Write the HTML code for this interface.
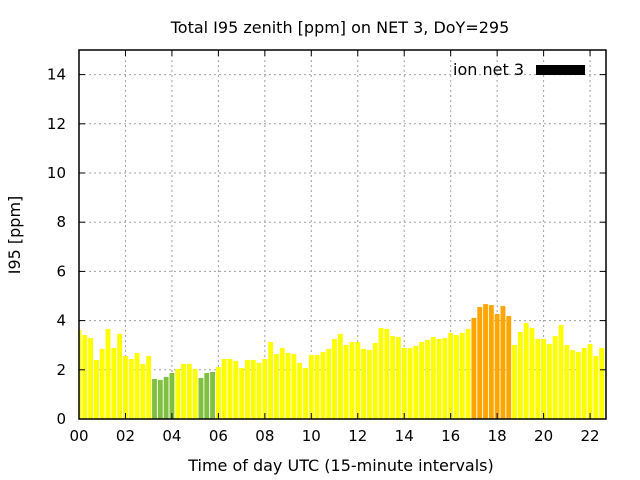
<!DOCTYPE html>
<html><head><meta charset="utf-8"><style>
html,body{margin:0;padding:0;background:#fff;}
svg{display:block;font-family:"DejaVu Sans","Liberation Sans",sans-serif;}
</style></head><body>
<svg id="chart" width="640" height="480" viewBox="0 0 640 480" xmlns="http://www.w3.org/2000/svg">
<defs><clipPath id="pc"><rect x="79" y="50" width="527" height="369"/></clipPath></defs>
<text x="340" y="33" text-anchor="middle" font-size="16" fill="#000">Total I95 zenith [ppm] on NET 3, DoY=295</text>
<text transform="translate(20,235) rotate(-90)" text-anchor="middle" font-size="16">I95 [ppm]</text>
<text x="341" y="471" text-anchor="middle" font-size="16">Time of day UTC (15-minute intervals)</text>
<g id="grid"></g>
<g id="bars" clip-path="url(#pc)"></g>
<g id="axes"></g>
<text x="524" y="75" text-anchor="end" font-size="16">ion net 3</text>
<rect x="536" y="65" width="49" height="10" fill="#000"/>
</svg>
<script>
const values = [3.62,3.41,3.29,2.40,2.85,3.66,2.89,3.46,2.56,2.44,2.68,2.24,2.56,1.63,1.59,1.71,1.87,2.03,2.24,2.24,2.03,1.67,1.87,1.91,2.11,2.44,2.44,2.36,2.07,2.40,2.40,
2.28,2.44,3.13,2.64,2.89,2.68,2.64,2.28,2.07,2.60,2.60,2.72,2.85,3.25,3.46,3.01,3.13,3.13,2.85,2.80,3.09,3.70,3.66,3.37,3.33,2.89,2.89,2.97,3.13,3.21,
3.33,3.25,3.29,3.50,3.41,3.50,3.66,4.11,4.55,4.67,4.63,4.27,4.59,4.19,3.01,3.54,3.90,3.70,3.25,3.25,3.05,3.37,3.82,3.01,2.80,2.72,2.89,3.05,2.56,2.89,2.72];
const xTicks = [0,2,4,6,8,10,12,14,16,18,20,22];
const xTickLabels = ["00","02","04","06","08","10","12","14","16","18","20","22"];
const yTicks = [0,2,4,6,8,10,12,14];
const NS="http://www.w3.org/2000/svg";
const X0=79,X1=606,Y0=419,Y1=50,XMAX=(606-79)/23.23,YMAX=15;
const xs=h=>X0+h/XMAX*(X1-X0);
const ys=v=>Y0-v/YMAX*(Y0-Y1);
function mk(t,a,p){const e=document.createElementNS(NS,t);for(const k in a)e.setAttribute(k,a[k]);p.appendChild(e);return e;}
const grid=document.getElementById('grid'),bars=document.getElementById('bars'),axes=document.getElementById('axes');
xTicks.forEach((h,i)=>{const x=xs(h);
 if(i>0){const g=mk('line',{x1:x,x2:x,y1:Y1,y2:Y0,stroke:'#a0a0a0','stroke-dasharray':'2,3'},grid);
 
 }
 mk('line',{x1:x,x2:x,y1:Y0,y2:Y0-6,stroke:'#000'},axes);
 mk('line',{x1:x,x2:x,y1:Y1,y2:Y1+6,stroke:'#000'},axes);
 const t=mk('text',{x:x,y:Y0+22,'text-anchor':'middle','font-size':'15'},axes);t.textContent=xTickLabels[i];
 
 
});
yTicks.forEach(v=>{const y=ys(v);
 if(v>0){const g=mk('line',{x1:X0,x2:X1,y1:y,y2:y,stroke:'#a0a0a0','stroke-dasharray':'2,3'},grid);
 
 }
 mk('line',{x1:X0,x2:X0+6,y1:y,y2:y,stroke:'#000'},axes);
 mk('line',{x1:X1,x2:X1-6,y1:y,y2:y,stroke:'#000'},axes);
 const t=mk('text',{x:X0-13,y:y+5,'text-anchor':'end','font-size':'15'},axes);t.textContent=v;
 
 
});
const bw=xs(0.21)-xs(0);
values.forEach((v,i)=>{const c=xs(i*0.25);
 const col=v<2?'#80c040':(v>4?'#ffa500':'#ffff00');
 const r=mk('rect',{x:c-bw/2,y:ys(v),width:bw,height:Y0-ys(v),fill:col},bars);
 
 
});
const f=mk('rect',{x:X0,y:Y1,width:X1-X0,height:Y0-Y1,fill:'none',stroke:'#000','stroke-width':'1.5'},axes);


</script>
</body></html>
